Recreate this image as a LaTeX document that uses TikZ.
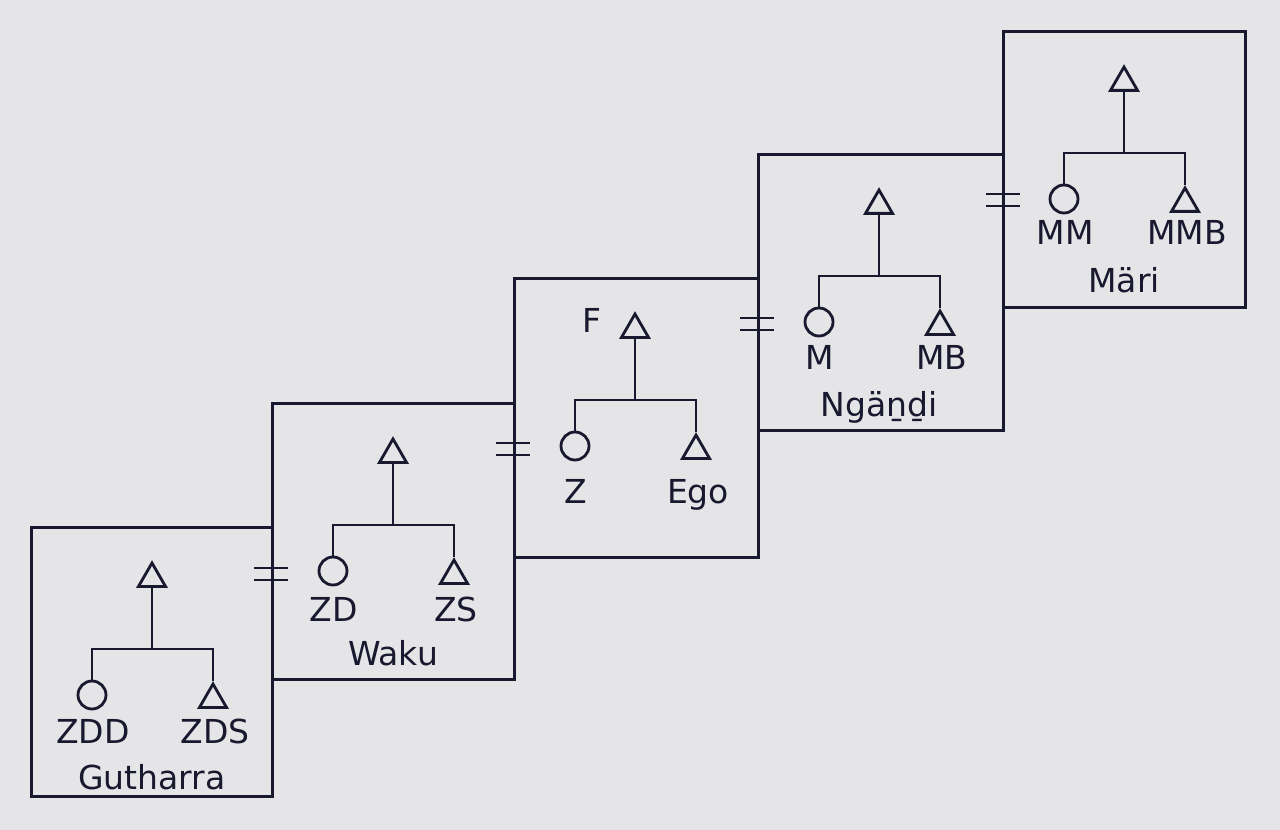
\documentclass[tikz,border=0pt]{standalone}
\usepackage{fontspec}
\setmainfont{DejaVu Sans}
\usetikzlibrary{shapes.geometric}
\definecolor{ink}{HTML}{18182F}
\definecolor{paper}{HTML}{E5E5E7}
\tikzset{
  ink line/.style={draw=ink, line width=2.1pt},
  kinframe/.style={draw=ink, line width=2.1pt, rectangle, inner sep=0pt, anchor=north west},
  male/.style={draw=ink, line width=2.1pt, regular polygon, regular polygon sides=3, minimum size=23.4pt, inner sep=0pt},
  female/.style={draw=ink, line width=2.1pt, circle, minimum size=21pt, inner sep=0pt},
  kinlabel/.style={text=ink, anchor=base, inner sep=0pt, font=\fontsize{24.75}{30}\selectfont},
}
% #1 id, #2 left, #3 top, #4 width, #5 height, #6 left label, #7 right label, #8 group, #9 label baseline offset
\newcommand\kinbox[9]{%
  \node[kinframe, minimum width=#4*0.75pt, minimum height=#5*0.75pt] (#1box) at (#2,#3) {};
  \node[male] (#1f) at (#2+122,#3+52.6) {};
  \node[female] (#1c) at (#2+62,#3+169) {};
  \node[male] (#1m) at (#2+183,#3+173.6) {};
  \coordinate (#1j) at (#2+122,#3+123);
  \draw[ink line] (#1f.south) -- (#1j);
  \draw[ink line] (#1c.north) |- (#1j);
  \draw[ink line] (#1m.north) |- (#1j);
  \node[kinlabel] (#1cl) at (#2+63,#3+#9) {#6};
  \node[kinlabel] (#1ml) at (#2+185,#3+#9) {#7};
  \node[kinlabel] (#1g) at (#2+122,#3+263) {#8};
}
\newcommand\marriagemark[2]{%
  \draw[ink line] (#1-17,#2-6) -- (#1+17,#2-6) (#1-17,#2+6) -- (#1+17,#2+6);
}
\begin{document}
\begin{tikzpicture}[x=0.75pt, y=-0.75pt]
  \useasboundingbox (0,0) rectangle (1280,830);
  \fill[paper] (0,0) rectangle (1280,830);
  \kinbox{gu}{30}{526}{241}{269}{ZDD}{ZDS}{Gutharra}{217}
  \kinbox{wa}{271}{402}{242}{276}{ZD}{ZS}{Waku}{219}
  \kinbox{eg}{513}{277}{244}{279}{Z}{Ego}{}{226}
  \kinbox{ng}{757}{153}{245}{276}{M}{MB}{Ngäṉḏi}{216}
  \kinbox{ma}{1002}{30}{242}{276}{MM}{MMB}{Märi}{215}
  \node[kinlabel] (Flabel) at (592,333) {F};
  \marriagemark{271}{574}
  \marriagemark{513}{449}
  \marriagemark{757}{324}
  \marriagemark{1003}{200}
\end{tikzpicture}
\end{document}
